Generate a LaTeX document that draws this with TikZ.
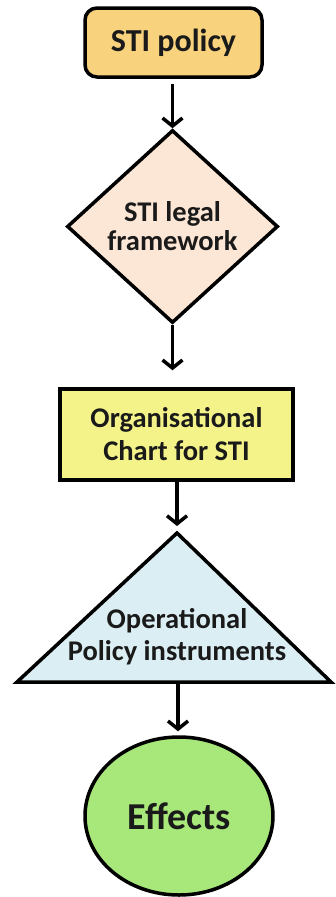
\documentclass[tikz,border=0pt]{standalone}
\usepackage{fontspec}
\setmainfont{Carlito}
\usetikzlibrary{shapes.geometric,arrows.meta}
\definecolor{cpolicy}{HTML}{F8D27C}
\definecolor{clegal}{HTML}{FCE6D6}
\definecolor{corg}{HTML}{F3F38A}
\definecolor{cops}{HTML}{DAEEF3}
\definecolor{ceff}{HTML}{A8E87A}
\definecolor{ctext}{HTML}{1A1A1A}
\begin{document}
\begin{tikzpicture}[x=1pt,y=-1pt,
  shapeline/.style={draw=black,line width=3.5pt},
  lbl/.style={font=\bfseries\fontsize{28.5}{29.5}\selectfont,text=ctext,align=center},
  arr/.style={line width=3.5pt,-{Straight Barb[length=8pt,width=20pt]}}]
\useasboundingbox (0,0) rectangle (335,897);
\node[shapeline,fill=cpolicy,rounded corners=12pt,minimum width=177pt,minimum height=69pt,inner sep=0pt,lbl,font=\bfseries\fontsize{32}{34}\selectfont] (policy) at (173.5,42.5) {STI policy};
\node[shapeline,fill=clegal,diamond,minimum width=211pt,minimum height=193pt,inner sep=0pt,lbl,font=\bfseries\fontsize{28.5}{29}\selectfont] (legal) at (172.5,226.5) {STI legal\\framework};
\node[shapeline,fill=corg,minimum width=233pt,minimum height=91pt,inner sep=0pt,lbl,font=\bfseries\fontsize{28.5}{33}\selectfont] (org) at (176.5,434.5) {Organisational\\Chart for STI};
\coordinate (apex) at (177,533);
\coordinate (bl) at (17,682);
\coordinate (br) at (331,682);
\coordinate (tribase) at (178,682);
\draw[shapeline,fill=cops] (apex) -- (br) -- (bl) -- cycle;
\node[lbl,font=\bfseries\fontsize{28.5}{32}\selectfont] (ops) at (177,637) {Operational\\Policy instruments};
\node[shapeline,fill=ceff,ellipse,minimum width=188pt,minimum height=158pt,inner sep=0pt,font=\bfseries\fontsize{38}{40}\selectfont,text=ctext] (eff) at (179,816) {Effects};
\draw[arr,shorten <=5pt] (policy.south -| legal.north) -- (legal.north);
\draw[arr,shorten >=17pt] (legal.south) -- (legal.south |- org.north);
\draw[arr,shorten >=7pt] (org.south -| apex) -- (apex);
\draw[arr,shorten >=4pt] (tribase) -- (tribase |- eff.north);
\end{tikzpicture}
\end{document}
